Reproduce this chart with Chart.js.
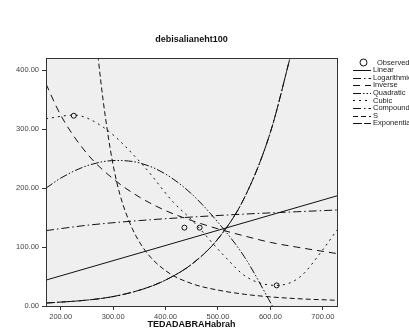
<!DOCTYPE html>
<html>
<head>
<meta charset="utf-8">
<script src="https://cdn.jsdelivr.net/npm/chart.js@4/dist/chart.umd.min.js"></script>
<style>
  html, body { margin: 0; padding: 0; background: #fff; }
  #wrap { width: 409px; height: 336px; }
</style>
</head>
<body>
<div id="wrap"><canvas id="chart" width="409" height="336"></canvas></div>
<script>
const titleText = 'debisalianeht100';
const xTitleText = 'TEDADABRAHabrah';

const xTicks = [200, 300, 400, 500, 600, 700];
const yTicks = [0, 100, 200, 300, 400];

// observed cases
const observedX = [225, 436, 465, 612];
const observedY = [323, 133, 133, 35];

// fitted curves
const linearX = [172, 727];
const linearY = [44, 187];

const logX = [172, 250, 350, 450, 550, 650, 727];
const logY = [128, 137, 145, 151, 156, 160, 163];

const inverseX = [172, 200, 250, 300, 350, 400, 450, 500, 550, 600, 650, 727];
const inverseY = [377, 324, 259, 216, 185, 162, 145, 131, 119, 108, 100, 89];

const quadX = [172, 200, 250, 305, 350, 400, 450, 500, 550, 610];
const quadY = [200, 217, 238, 247, 243, 224, 190, 142, 84, -10];

const cubicX = [172, 225, 282, 358, 415, 450, 511, 555, 612, 656, 701, 727];
const cubicY = [318, 324, 303, 238, 176, 146, 86, 49, 35, 49, 97, 129];

const compoundX = [172, 250, 300, 358, 400, 450, 500, 550, 600, 640];
const compoundY = [5, 10, 16, 29, 44, 71, 114, 183, 295, 430];

const sX = [262, 272, 290, 307, 330, 358, 400, 450, 500, 550, 600, 650, 727];
const sY = [520, 418, 292, 210, 145, 98, 60, 38, 27, 20, 15.5, 12.5, 9.7];

const expX = compoundX;
const expY = compoundY;

function pts(xs, ys) {
    return xs.map((x, i) => ({ x: x, y: ys[i] }));
}

function curve(label, xs, ys, dash) {
    return {
        label: label,
        data: pts(xs, ys),
        showLine: true,
        borderColor: '#111',
        borderWidth: 1,
        borderDash: dash,
        pointRadius: 0,
        fill: false,
        cubicInterpolationMode: 'monotone'
    };
}

const datasets = [
    {
        label: 'Observed',
        data: pts(observedX, observedY),
        showLine: false,
        pointStyle: 'circle',
        pointRadius: 2.5,
        borderColor: '#111',
        borderWidth: 1,
        backgroundColor: 'rgba(0,0,0,0)'
    },
    curve('Linear', linearX, linearY, []),
    curve('Logarithmic', logX, logY, [8, 3, 1.5, 3]),
    curve('Inverse', inverseX, inverseY, [7, 5]),
    curve('Quadratic', quadX, quadY, [8, 2, 1.5, 2, 1.5, 2]),
    curve('Cubic', cubicX, cubicY, [2, 4]),
    curve('Compound', compoundX, compoundY, [8, 3, 1.5, 3]),
    curve('S', sX, sY, [5, 3]),
    curve('Exponential', expX, expY, [9, 2])
];

// frame, title, axis title, legend
const decor = {
    id: 'decor',
    beforeDatasetsDraw(chart) {
        const { ctx, chartArea: a } = chart;
        ctx.save();
        ctx.fillStyle = '#efefef';
        ctx.fillRect(a.left, a.top, a.right - a.left, a.bottom - a.top);
        ctx.restore();
    },
    afterDraw(chart) {
        const { ctx, chartArea: a } = chart;
        const cx = (a.left + a.right) / 2;
        ctx.save();
        ctx.strokeStyle = '#333';
        ctx.lineWidth = 1;
        ctx.strokeRect(Math.round(a.left) + 0.5, Math.round(a.top) + 0.5,
            Math.round(a.right - a.left), Math.round(a.bottom - a.top));

        ctx.fillStyle = '#111';
        ctx.textAlign = 'center';
        ctx.textBaseline = 'middle';
        ctx.font = 'bold 9px "Liberation Sans", Arial, sans-serif';
        ctx.fillText(titleText, cx, 40);
        ctx.fillText(xTitleText, cx, 325);

        // legend
        const lx0 = 353, lx1 = 371, tx = 373;
        let y = 62.5;
        ctx.font = '7.5px "Liberation Sans", Arial, sans-serif';
        ctx.textAlign = 'left';
        chart.data.datasets.forEach((ds, i) => {
            ctx.strokeStyle = '#111';
            ctx.lineWidth = 1;
            if (i === 0) {
                ctx.setLineDash([]);
                ctx.beginPath();
                ctx.arc(363.5, y, 3.5, 0, Math.PI * 2);
                ctx.stroke();
                ctx.fillStyle = '#222';
                ctx.fillText(ds.label, 377, y);
            } else {
                ctx.setLineDash(ds.borderDash);
                ctx.beginPath();
                ctx.moveTo(lx0, Math.round(y) + 0.5);
                ctx.lineTo(lx1, Math.round(y) + 0.5);
                ctx.stroke();
                ctx.setLineDash([]);
                ctx.fillStyle = '#222';
                ctx.fillText(ds.label, tx, y);
            }
            y += 7.6;
        });
        ctx.restore();
    }
};

new Chart(document.getElementById('chart'), {
    type: 'scatter',
    data: { datasets: datasets },
    options: {
        responsive: false,
        animation: false,
        layout: { padding: { top: 58, right: 72, bottom: 0, left: 0 } },
        plugins: {
            legend: { display: false },
            title: { display: false },
            tooltip: { enabled: false }
        },
        scales: {
            x: {
                type: 'linear',
                min: 172,
                max: 727,
                afterFit: (s) => { s.height = 30; },
                afterBuildTicks: (s) => { s.ticks = xTicks.map(v => ({ value: v })); },
                grid: { drawOnChartArea: false, drawTicks: true, tickLength: 4, color: '#333' },
                border: { display: true, color: '#222', width: 1 },
                ticks: {
                    padding: 2,
                    maxRotation: 0,
                    color: '#444',
                    font: { family: '"Liberation Sans", Arial, sans-serif', size: 7.5 },
                    callback: (v) => Number(v).toFixed(2)
                }
            },
            y: {
                type: 'linear',
                min: 0,
                max: 421,
                afterFit: (s) => { s.width = 46; },
                afterBuildTicks: (s) => { s.ticks = yTicks.map(v => ({ value: v })); },
                grid: { drawOnChartArea: false, drawTicks: true, tickLength: 4, color: '#333' },
                border: { display: true, color: '#222', width: 1 },
                ticks: {
                    padding: 3,
                    color: '#444',
                    font: { family: '"Liberation Sans", Arial, sans-serif', size: 7.5 },
                    callback: (v) => Number(v).toFixed(2)
                }
            }
        }
    },
    plugins: [decor]
});
</script>
</body>
</html>
